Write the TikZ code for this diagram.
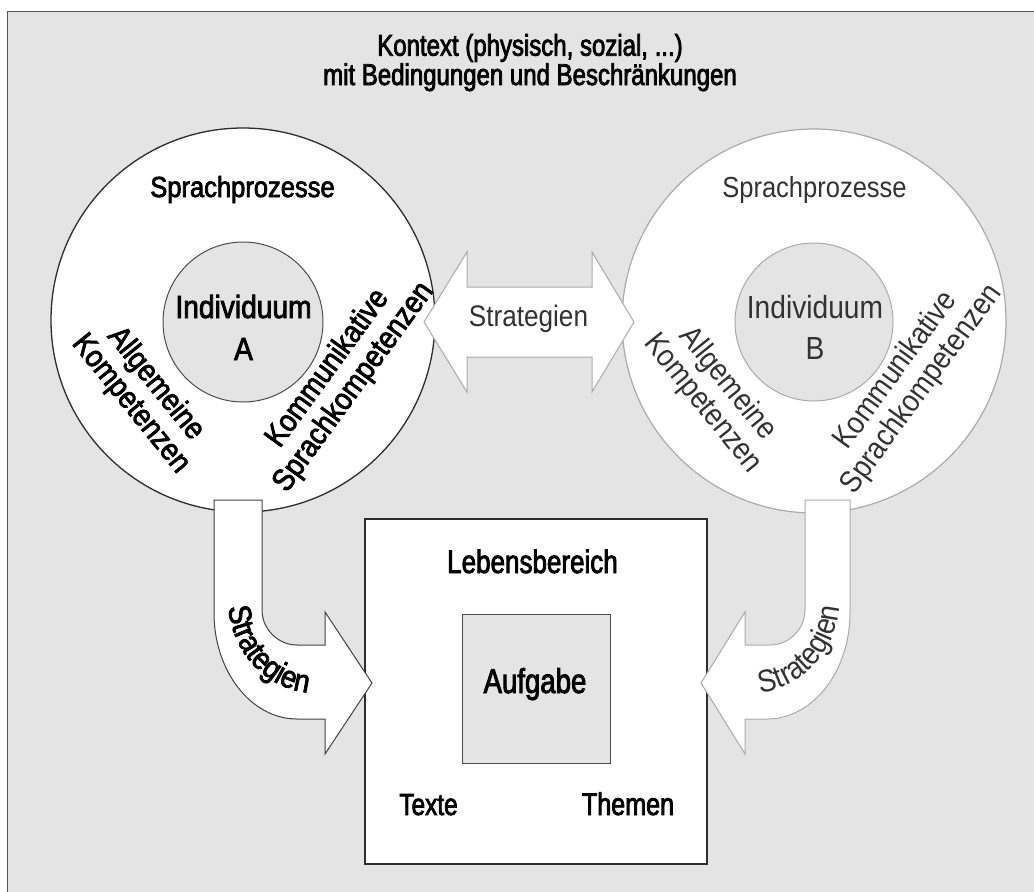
\documentclass[tikz,border=0pt]{standalone}
\usepackage{fontspec}
\setmainfont{Liberation Sans}[FakeStretch=0.88]
\newfontfamily\boldish{Liberation Sans}[FakeStretch=0.88,FakeBold=2.5]
\newfontfamily\narrowbold{Liberation Sans}[FakeStretch=0.8,FakeBold=2.5]
\usetikzlibrary{decorations.text}
\definecolor{bg}{RGB}{228,228,228}
\definecolor{darkline}{RGB}{45,45,45}
\definecolor{lightline}{RGB}{170,170,170}
\definecolor{graytext}{RGB}{50,50,50}
\definecolor{frameline}{RGB}{85,85,85}
\tikzset{
  lbl/.style={inner sep=0pt, anchor=base, text=black, font=\boldish\fontsize{29}{34}\selectfont},
  lblr/.style={inner sep=0pt, anchor=base, text=graytext, font=\fontsize{29}{34}\selectfont},
  rotlbl/.style={inner sep=0pt, align=center, text=black, font=\boldish\fontsize{31}{32}\selectfont},
  rotlblr/.style={inner sep=0pt, align=center, text=graytext, font=\fontsize{31}{32}\selectfont},
  bigcircA/.style={circle, draw=darkline, line width=1.3pt, fill=white, minimum size=384pt, inner sep=0pt},
  bigcircB/.style={circle, draw=lightline, line width=1.2pt, fill=white, minimum size=384pt, inner sep=0pt},
  smallcircA/.style={circle, draw=darkline!85, line width=1pt, fill=bg, minimum size=160pt, inner sep=0pt},
  smallcircB/.style={circle, draw=lightline, line width=1pt, fill=bg, minimum size=158pt, inner sep=0pt},
  arrowA/.style={draw=darkline!90, line width=1pt, fill=white, line join=miter},
  arrowB/.style={draw=lightline, line width=1pt, fill=white, line join=miter},
}
\begin{document}
\begin{tikzpicture}[x=1pt,y=-1pt]
\useasboundingbox (0,0) rectangle (1034,892);
\clip (0,0) rectangle (1034,892);
% context background
\fill[bg] (7.5,11.5) rectangle (1060,920);
\draw[frameline, line width=1.8pt] (7.5,920) -- (7.5,11.5) -- (1060,11.5);
% circles
\node[bigcircA] (circA) at (243,320) {};
\node[smallcircA] (indA) at (243,322) {};
\node[bigcircB] (circB) at (814,321) {};
\node[smallcircB] (indB) at (814,322) {};
% Lebensbereich box
\node[draw=darkline, line width=1.2pt, fill=white, minimum width=342pt, minimum height=345pt, inner sep=0pt] (box) at (536,691.5) {};
\node[draw=darkline!85, line width=1pt, fill=bg, minimum width=148pt, minimum height=149pt, inner sep=0pt] (task) at (536,688.5) {};
% double arrow
\draw[arrowB] (424,322) -- (467,252) -- (467,287) -- (592,287) -- (592,252) -- (634,322)
  -- (592,392) -- (592,357) -- (467,357) -- (467,392) -- cycle;
% left curved arrow
\draw[arrowA] (214,500) -- (262,500) -- (262,610) .. controls (262,629) and (278,645) .. (297,645)
  -- (325,645) -- (325,612) -- (372,683) -- (325,754) -- (325,719) -- (297,719)
  .. controls (251,719) and (214,671) .. (214,613) -- cycle;
% right curved arrow
\draw[arrowB] (850,500) -- (805,500) -- (805,610) .. controls (805,629) and (789,645) .. (770,645)
  -- (745,645) -- (745,612) -- (701,683) -- (745,754) -- (745,719) -- (767,719)
  .. controls (813,719) and (850,671) .. (850,613) -- cycle;
% curved labels
\path[decorate, decoration={text along path, text align=center, text color=black,
  text={|\boldish\fontsize{31.5}{31}\selectfont|Strategien}}]
  (228,598) .. controls (228,651) and (267,693) .. (317,693);
\path[decorate, decoration={text along path, text align=center, text color=graytext,
  text={|\fontsize{31.5}{31}\selectfont|Strategien}}]
  (752,693) .. controls (801,693) and (840,651) .. (840,598);
% title
\node[lbl, font=\narrowbold\fontsize{30}{30}\selectfont] (title1) at (530,55.7) {Kontext (physisch, sozial, ...)};
\node[lbl, font=\narrowbold\fontsize{30}{30}\selectfont] (title2) at (530,85) {mit Bedingungen und Beschränkungen};
% left circle labels
\node[lbl] (spA) at (242.5,197) {Sprachprozesse};
\node[lbl, font=\boldish\fontsize{32}{34}\selectfont] (indA1) at (243.5,318) {Individuum};
\node[lbl, font=\boldish\fontsize{32}{34}\selectfont] (indA2) at (243.5,360) {A};
\node[rotlbl, rotate=-51] (allgA) at (143,394) {Allgemeine\\Kompetenzen};
\node[rotlbl, rotate=54] (kommA) at (341,378) {Kommunikative\\Sprachkompetenzen};
% right circle labels
\node[lblr] (spB) at (814.5,197) {Sprachprozesse};
\node[lblr, font=\fontsize{32}{34}\selectfont] (indB1) at (815,318) {Individuum};
\node[lblr, font=\fontsize{32}{34}\selectfont] (indB2) at (815,359) {B};
\node[rotlblr, rotate=-51] (allgB) at (715,394) {Allgemeine\\Kompetenzen};
\node[rotlblr, rotate=54] (kommB) at (909,380) {Kommunikative\\Sprachkompetenzen};
% middle arrow label
\node[lblr, font=\fontsize{29.7}{34}\selectfont] (stratM) at (528.5,326.7) {Strategien};
% box labels
\node[lbl, font=\narrowbold\fontsize{32.5}{34}\selectfont] (leb) at (532.5,573) {Lebensbereich};
\node[lbl, font=\narrowbold\fontsize{34.5}{34}\selectfont] (auf) at (535,693) {Aufgabe};
\node[lbl, font=\narrowbold\fontsize{30.5}{34}\selectfont] (texte) at (428.5,815) {Texte};
\node[lbl, font=\narrowbold\fontsize{31.4}{34}\selectfont] (themen) at (628,815) {Themen};
\end{tikzpicture}
\end{document}
